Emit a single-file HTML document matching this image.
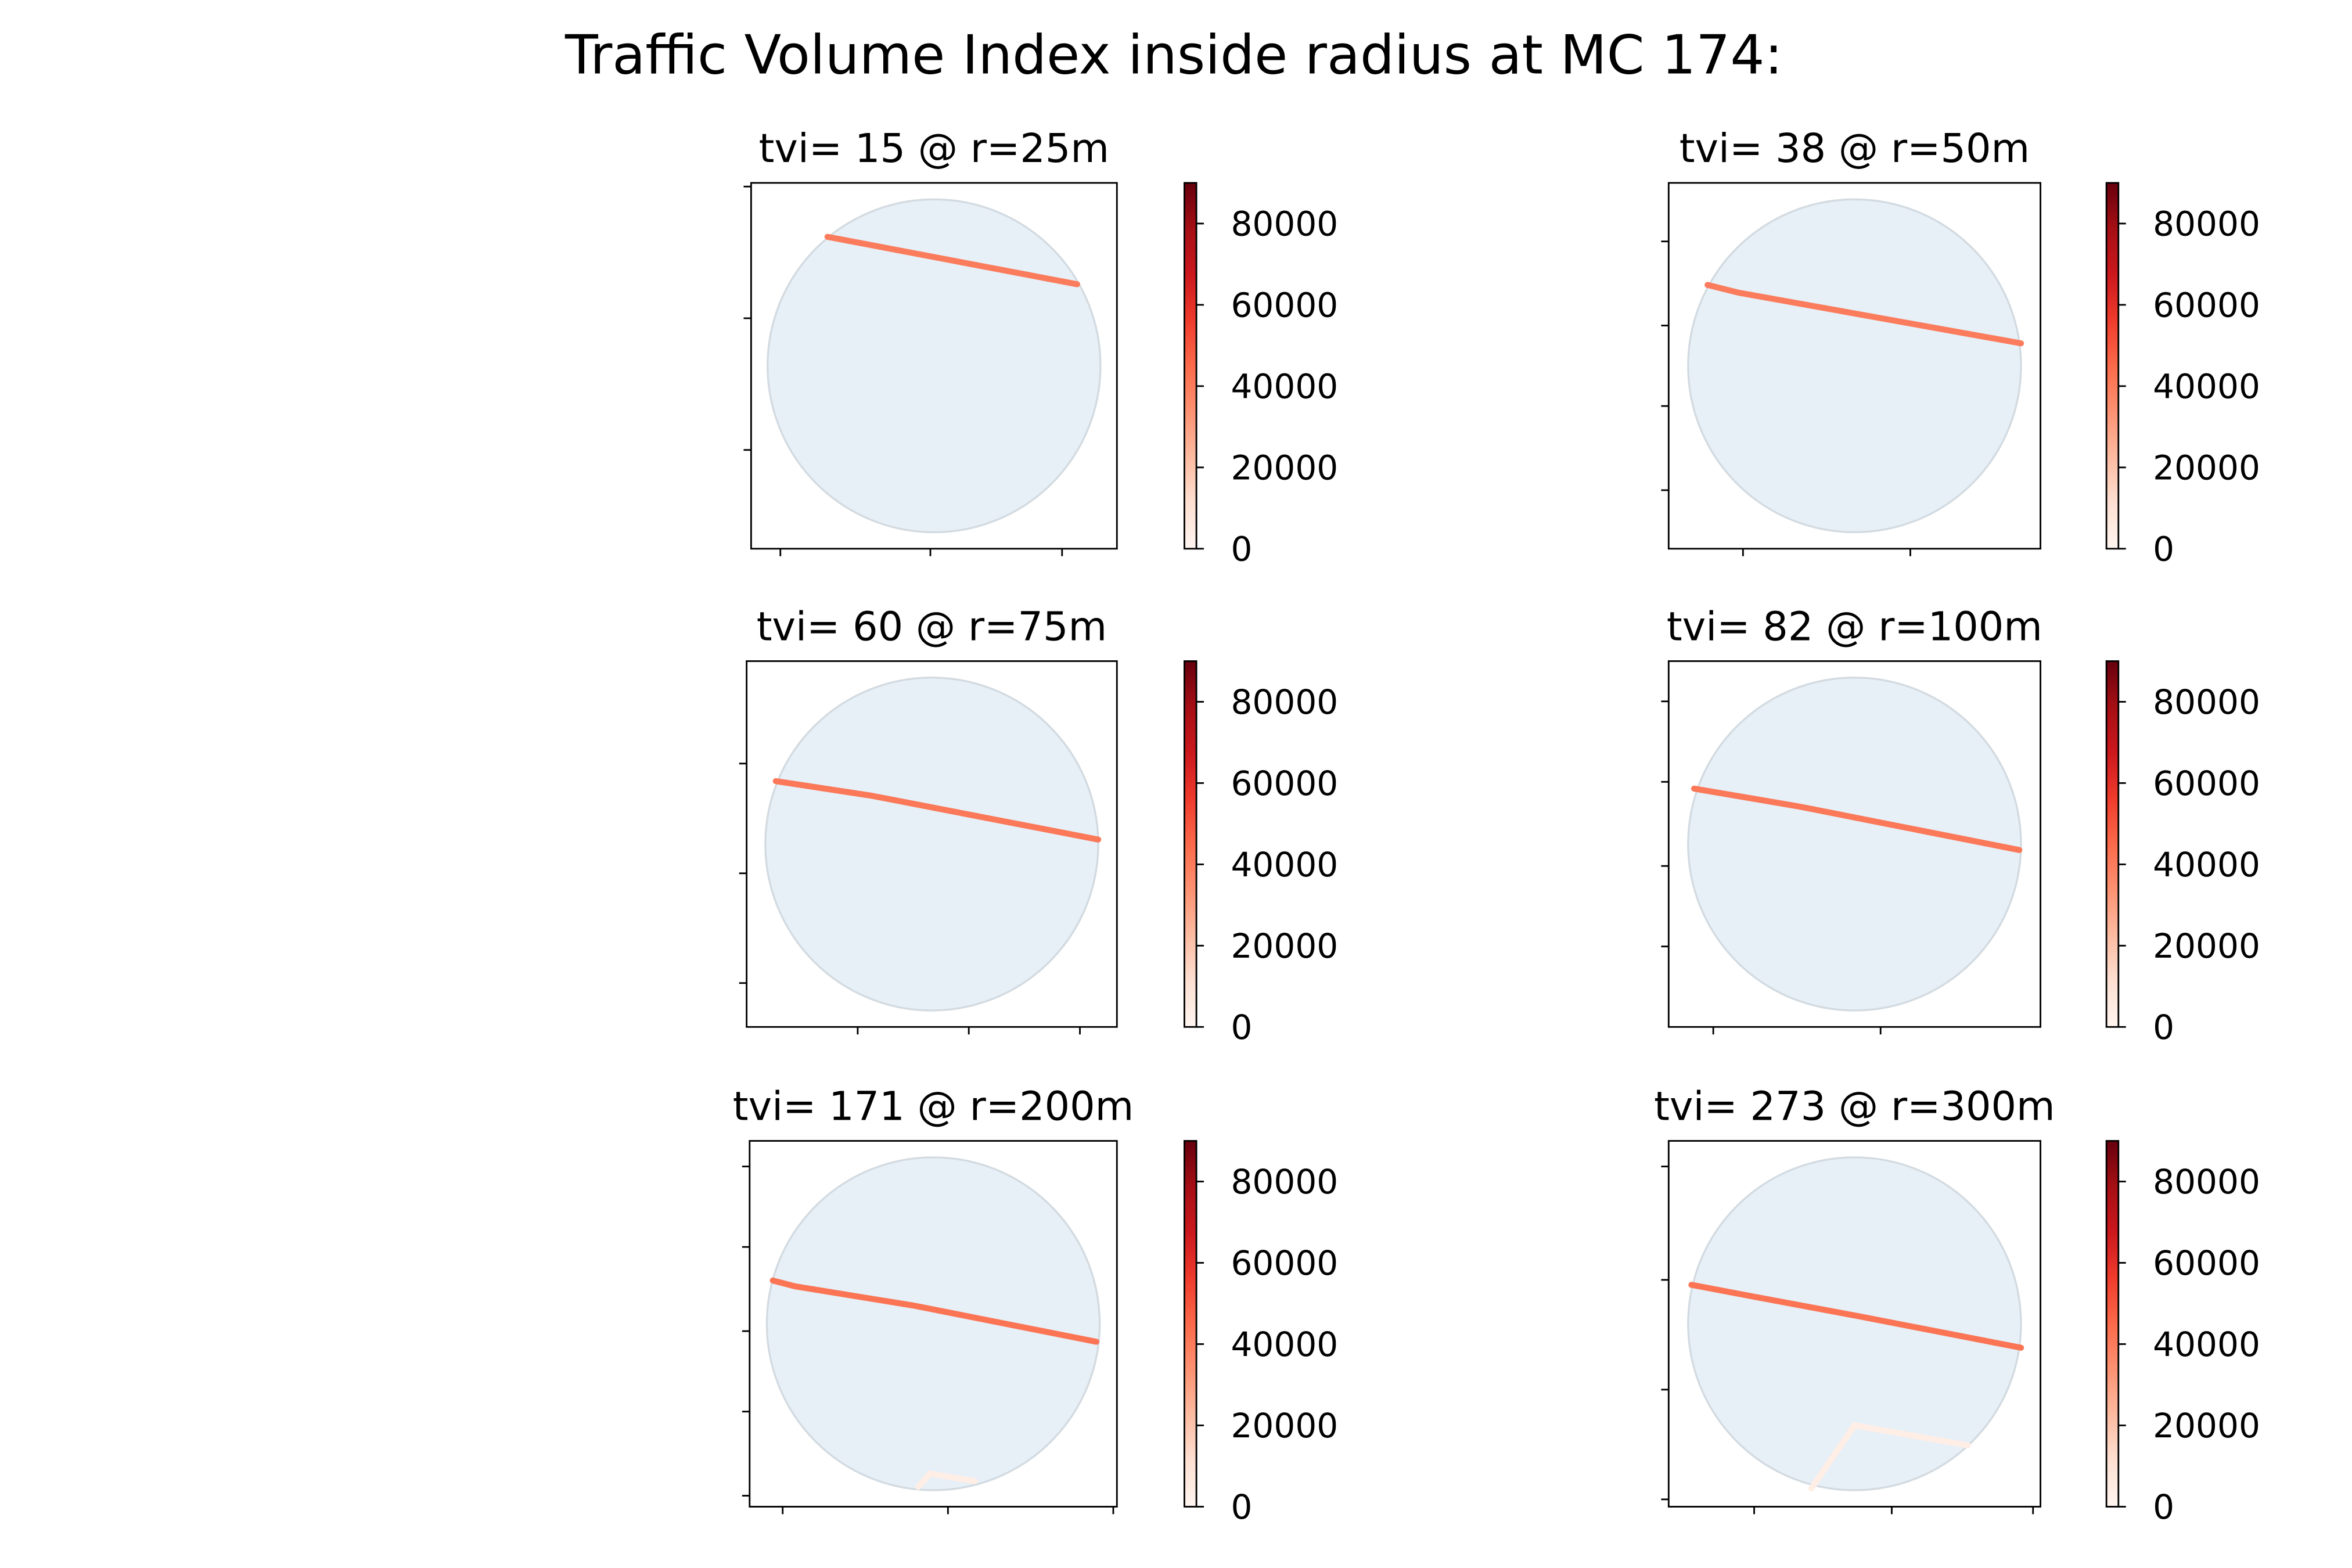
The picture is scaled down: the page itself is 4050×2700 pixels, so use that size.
<!DOCTYPE html>
<html><head><meta charset="utf-8"><style>
html,body{margin:0;padding:0;background:#fff;}
svg{display:block;font-family:"DejaVu Sans","Liberation Sans",sans-serif;}
</style></head><body>
<svg id="fig" width="4050" height="2700" viewBox="0 0 1568.8 1045.9" preserveAspectRatio="none" xmlns="http://www.w3.org/2000/svg">
<defs>
<linearGradient id="reds" x1="0" y1="1" x2="0" y2="0">
<stop offset="0" stop-color="#fff5f0"/><stop offset="0.125" stop-color="#fee0d2"/>
<stop offset="0.25" stop-color="#fcbba1"/><stop offset="0.375" stop-color="#fc9272"/>
<stop offset="0.5" stop-color="#fb6a4a"/><stop offset="0.625" stop-color="#ef3b2c"/>
<stop offset="0.75" stop-color="#cb181d"/><stop offset="0.875" stop-color="#a50f15"/>
<stop offset="1" stop-color="#67000d"/></linearGradient>
</defs>
<text x="783" y="49" font-size="36" text-anchor="middle">Traffic Volume Index inside radius at MC 174:</text>
</svg>
<script>
// panel data
const titles = ["tvi= 15 @ r=25m","tvi= 38 @ r=50m","tvi= 60 @ r=75m","tvi= 82 @ r=100m","tvi= 171 @ r=200m","tvi= 273 @ r=300m"];
const cbarTicks = [0,20000,40000,60000,80000];
const cbarMax = 90000;
// road segments per panel: points in circle-relative units (x right, y down), and traffic value
const roadPoints = [
 [[[-0.64,-0.775],[0.86,-0.49]]],
 [[[-0.883,-0.486],[-0.7,-0.44],[1.0,-0.135]]],
 [[[-0.937,-0.378],[-0.36,-0.29],[1.0,-0.027]]],
 [[[-0.964,-0.333],[-0.33,-0.225],[0.99,0.036]]],
 [[[-0.964,-0.26],[-0.83,-0.225],[-0.11,-0.108],[0.98,0.108]],[[-0.09,0.98],[-0.02,0.9],[0.25,0.946]]],
 [[[-0.98,-0.234],[-0.6,-0.162],[0.027,-0.045],[1.0,0.144]],[[-0.26,0.99],[0,0.61],[0.68,0.73]]]
];
const roadValues = [[40000],[40000],[41000],[41000],[42000,4000],[42000,4000]];
// tick positions as fractions of axes extent
const xTickFrac = [[0.08,0.49,0.85],[0.2,0.65],[0.3,0.6,0.9],[0.12,0.57],[0.09,0.54,0.99],[0.23,0.6,0.98]];
const yTickFrac = [[0.01,0.37,0.73],[0.16,0.39,0.61,0.84],[0.28,0.58,0.88],[0.11,0.33,0.56,0.78],[0.07,0.29,0.52,0.74,0.97],[0.07,0.38,0.68,0.98]];

const layout = [
 {x:501,y:122,w:244,h:244,cb:790},{x:1113,y:122,w:248,h:244,cb:1405},
 {x:498,y:441,w:247,h:244,cb:790},{x:1113,y:441,w:248,h:244,cb:1405},
 {x:500,y:761,w:245,h:244,cb:790},{x:1113,y:761,w:248,h:244,cb:1405}
];
const NS="http://www.w3.org/2000/svg";
const svg=document.getElementById('fig');
function mk(t,a,p){const e=document.createElementNS(NS,t);for(const k in a)e.setAttribute(k,a[k]);(p||svg).appendChild(e);return e;}
const stops=[[0,[255,245,240]],[0.125,[254,224,210]],[0.25,[252,187,161]],[0.375,[252,146,114]],[0.5,[251,106,74]],[0.625,[239,59,44]],[0.75,[203,24,29]],[0.875,[165,15,21]],[1,[103,0,13]]];
function cmap(v){const t=Math.max(0,Math.min(1,v/cbarMax));for(let i=1;i<stops.length;i++){if(t<=stops[i][0]){const a=stops[i-1],b=stops[i],f=(t-a[0])/(b[0]-a[0]);return 'rgb('+a[1].map((c,j)=>Math.round(c+(b[1][j]-c)*f)).join(',')+')';}}return 'rgb(103,0,13)';}

layout.forEach((L,i)=>{
 const g=mk('g',{});
 
 
 const t=mk('text',{x:L.x+L.w/2,y:L.y-14,'font-size':26.5,'text-anchor':'middle'},g);
 t.textContent=titles[i];
 
 
 const cx=L.x+L.w/2, cy=L.y+L.h/2, r=L.h*0.455;
 const c=mk('circle',{cx:cx,cy:cy,r:r,fill:'#e7eff7',stroke:'#d3dbe1','stroke-width':1.3},g);
 
 
 roadPoints[i].forEach((seg,k)=>{
  const p=mk('polyline',{points:seg.map(q=>(cx+q[0]*r)+','+(cy+q[1]*r)).join(' '),fill:'none',stroke:cmap(roadValues[i][k]),'stroke-width':4,'stroke-linecap':'round','stroke-linejoin':'round'},g);
  
  
 });
 const fr=mk('rect',{x:L.x,y:L.y,width:L.w,height:L.h,fill:'none',stroke:'#000','stroke-width':1.1},g);
 
 
 xTickFrac[i].forEach(f=>{const x=L.x+f*L.w;const l=mk('line',{x1:x,x2:x,y1:L.y+L.h,y2:L.y+L.h+5,stroke:'#000','stroke-width':1.1},g);
  
  });
 yTickFrac[i].forEach(f=>{const y=L.y+f*L.h;const l=mk('line',{x1:L.x-5,x2:L.x,y1:y,y2:y,stroke:'#000','stroke-width':1.1},g);
  
  });
 // colorbar
 const cb=mk('rect',{x:L.cb,y:L.y,width:8,height:L.h,fill:'url(#reds)',stroke:'#000','stroke-width':1.1},g);
 
 
 cbarTicks.forEach(v=>{const y=L.y+L.h-v/cbarMax*L.h;
  const l=mk('line',{x1:L.cb+8,x2:L.cb+13,y1:y,y2:y,stroke:'#000','stroke-width':1.1},g);
  
  
  const tx=mk('text',{x:L.cb+31,y:y+8,'font-size':22.5},g);tx.textContent=String(v);
  
  });
});
</script>
</body></html>
